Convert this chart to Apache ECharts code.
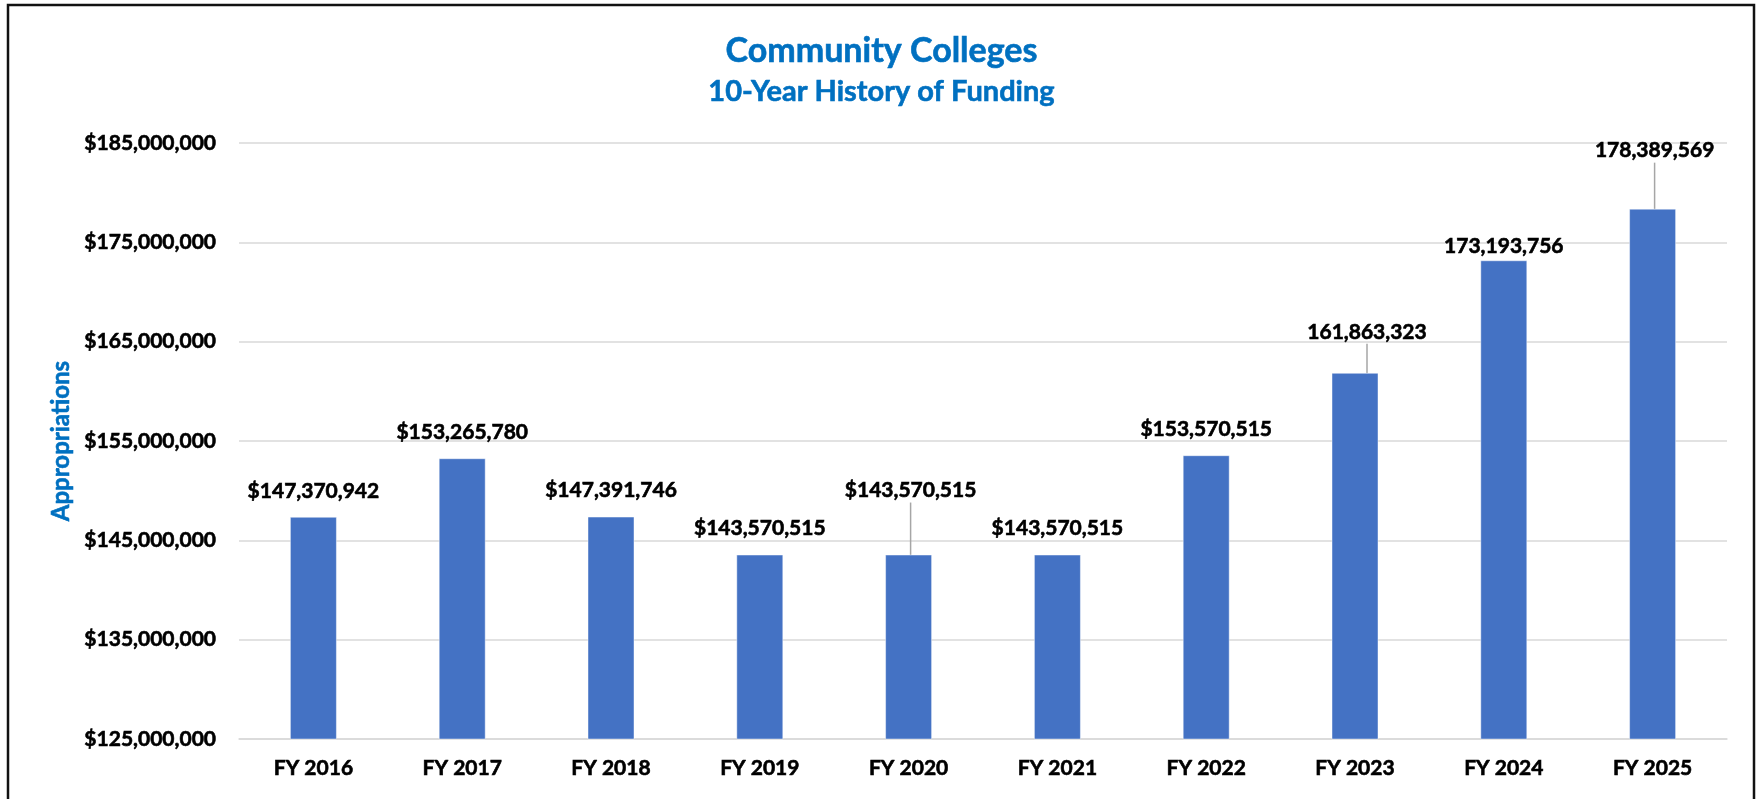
<!DOCTYPE html>
<html>
<head>
<meta charset="utf-8">
<title>Community Colleges – 10-Year History of Funding</title>
<script src="https://cdn.jsdelivr.net/npm/echarts@6/dist/echarts.min.js"></script>
<style>
  html, body { margin: 0; padding: 0; background: #fff; }
  #chart { width: 1763px; height: 799px; }
</style>
</head>
<body>
<div id="chart"></div>
<script>
// Fiscal years shown on the x axis
const years = ['FY 2016', 'FY 2017', 'FY 2018', 'FY 2019', 'FY 2020',
               'FY 2021', 'FY 2022', 'FY 2023', 'FY 2024', 'FY 2025'];

// Appropriations per fiscal year (dollars)
const appropriations = [147370942, 153265780, 147391746, 143570515, 143570515,
                        143570515, 153570515, 161863323, 173193756, 178389569];

// Whether each bar's value label carries a dollar sign
const dollarLabel = [true, true, true, true, true, true, true, false, false, false];

// Value axis range and step
const yMin = 125000000;
const yMax = 185000000;
const yStep = 10000000;

const TITLE_BLUE = '#0070C0';
const BAR_BLUE = '#4472C4';
const GRID_GRAY = '#d9d9d9';
const FONT = 'Lato, "Open Sans", sans-serif';

// a thin outline in the text's own colour gives the heavier bold look
const heavy = color => ({ color: color, textBorderColor: color, textBorderWidth: 0.6 });

// Labels pulled away from their bars (connected with a leader line)
const movedLabels = { 4: { dx: 2, dy: -38 }, 7: { dx: 12, dy: -15 }, 9: { dx: 2, dy: -32 } };

const fmt = n => n.toLocaleString('en-US');

const barData = appropriations.map((v, i) => {
  const item = { value: v };
  if (movedLabels[i]) {
    item.labelLine = { show: true };
  }
  if (i === 8) {
    // this label sits right on top of its bar
    item.label = { distance: 2, offset: [3, 0] };
  }
  return item;
});

const chart = echarts.init(document.getElementById('chart'), null, { renderer: 'canvas' });

chart.setOption({
  animation: false,
  backgroundColor: '#fff',
  textStyle: { fontFamily: FONT },
  title: [
    {
      text: 'Community Colleges',
      left: 'center', top: 31, padding: 0,
      textStyle: Object.assign(heavy(TITLE_BLUE), { fontFamily: FONT, fontWeight: 'bold', fontSize: 34, lineHeight: 40 })
    },
    {
      text: '10-Year History of Funding',
      left: 'center', top: 75, padding: 0,
      textStyle: Object.assign(heavy(TITLE_BLUE), { fontFamily: FONT, fontWeight: 'bold', fontSize: 29, lineHeight: 34 })
    }
  ],
  graphic: [
    {
      type: 'rect', silent: true, z: 100,
      shape: { x: 8, y: 5, width: 1746, height: 830 },
      style: { fill: null, stroke: '#111', lineWidth: 2.5 }
    }
  ],
  grid: { left: 239, right: 36, top: 143, bottom: 60, containLabel: false },
  xAxis: {
    type: 'category',
    data: years,
    axisLine: { show: true, lineStyle: { color: GRID_GRAY, width: 1.5 } },
    axisTick: { show: false },
    axisLabel: Object.assign(heavy('#000'), { fontFamily: FONT, fontWeight: 'bold', fontSize: 21, margin: 19 })
  },
  yAxis: {
    type: 'value',
    min: yMin, max: yMax, interval: yStep,
    name: 'Appropriations',
    nameLocation: 'middle',
    nameGap: 166,
    nameTextStyle: Object.assign(heavy(TITLE_BLUE), { fontFamily: FONT, fontWeight: 'bold', fontSize: 24 }),
    axisLine: { show: false },
    axisTick: { show: false },
    splitLine: { lineStyle: { color: GRID_GRAY, width: 1.5 } },
    axisLabel: Object.assign(heavy('#000'), {
      fontFamily: FONT, fontWeight: 'bold', fontSize: 21, margin: 23,
      formatter: v => '$' + fmt(v)
    })
  },
  series: [
    {
      type: 'bar',
      data: barData,
      barWidth: 47,
      itemStyle: { color: BAR_BLUE, borderColor: 'rgba(255,255,255,0.45)', borderWidth: 1 },
      label: Object.assign(heavy('#000'), {
        show: true,
        position: 'top',
        distance: 14,
        fontFamily: FONT,
        fontWeight: 'bold',
        fontSize: 21,
        lineHeight: 24,
        formatter: p => (dollarLabel[p.dataIndex] ? '$' : '') + fmt(p.value)
      }),
      labelLine: { show: false, length: 0, lineStyle: { color: '#a6a6a6', width: 1.5 } },
      labelLayout: p => movedLabels[p.dataIndex]
    }
  ]
});
</script>
</body>
</html>
